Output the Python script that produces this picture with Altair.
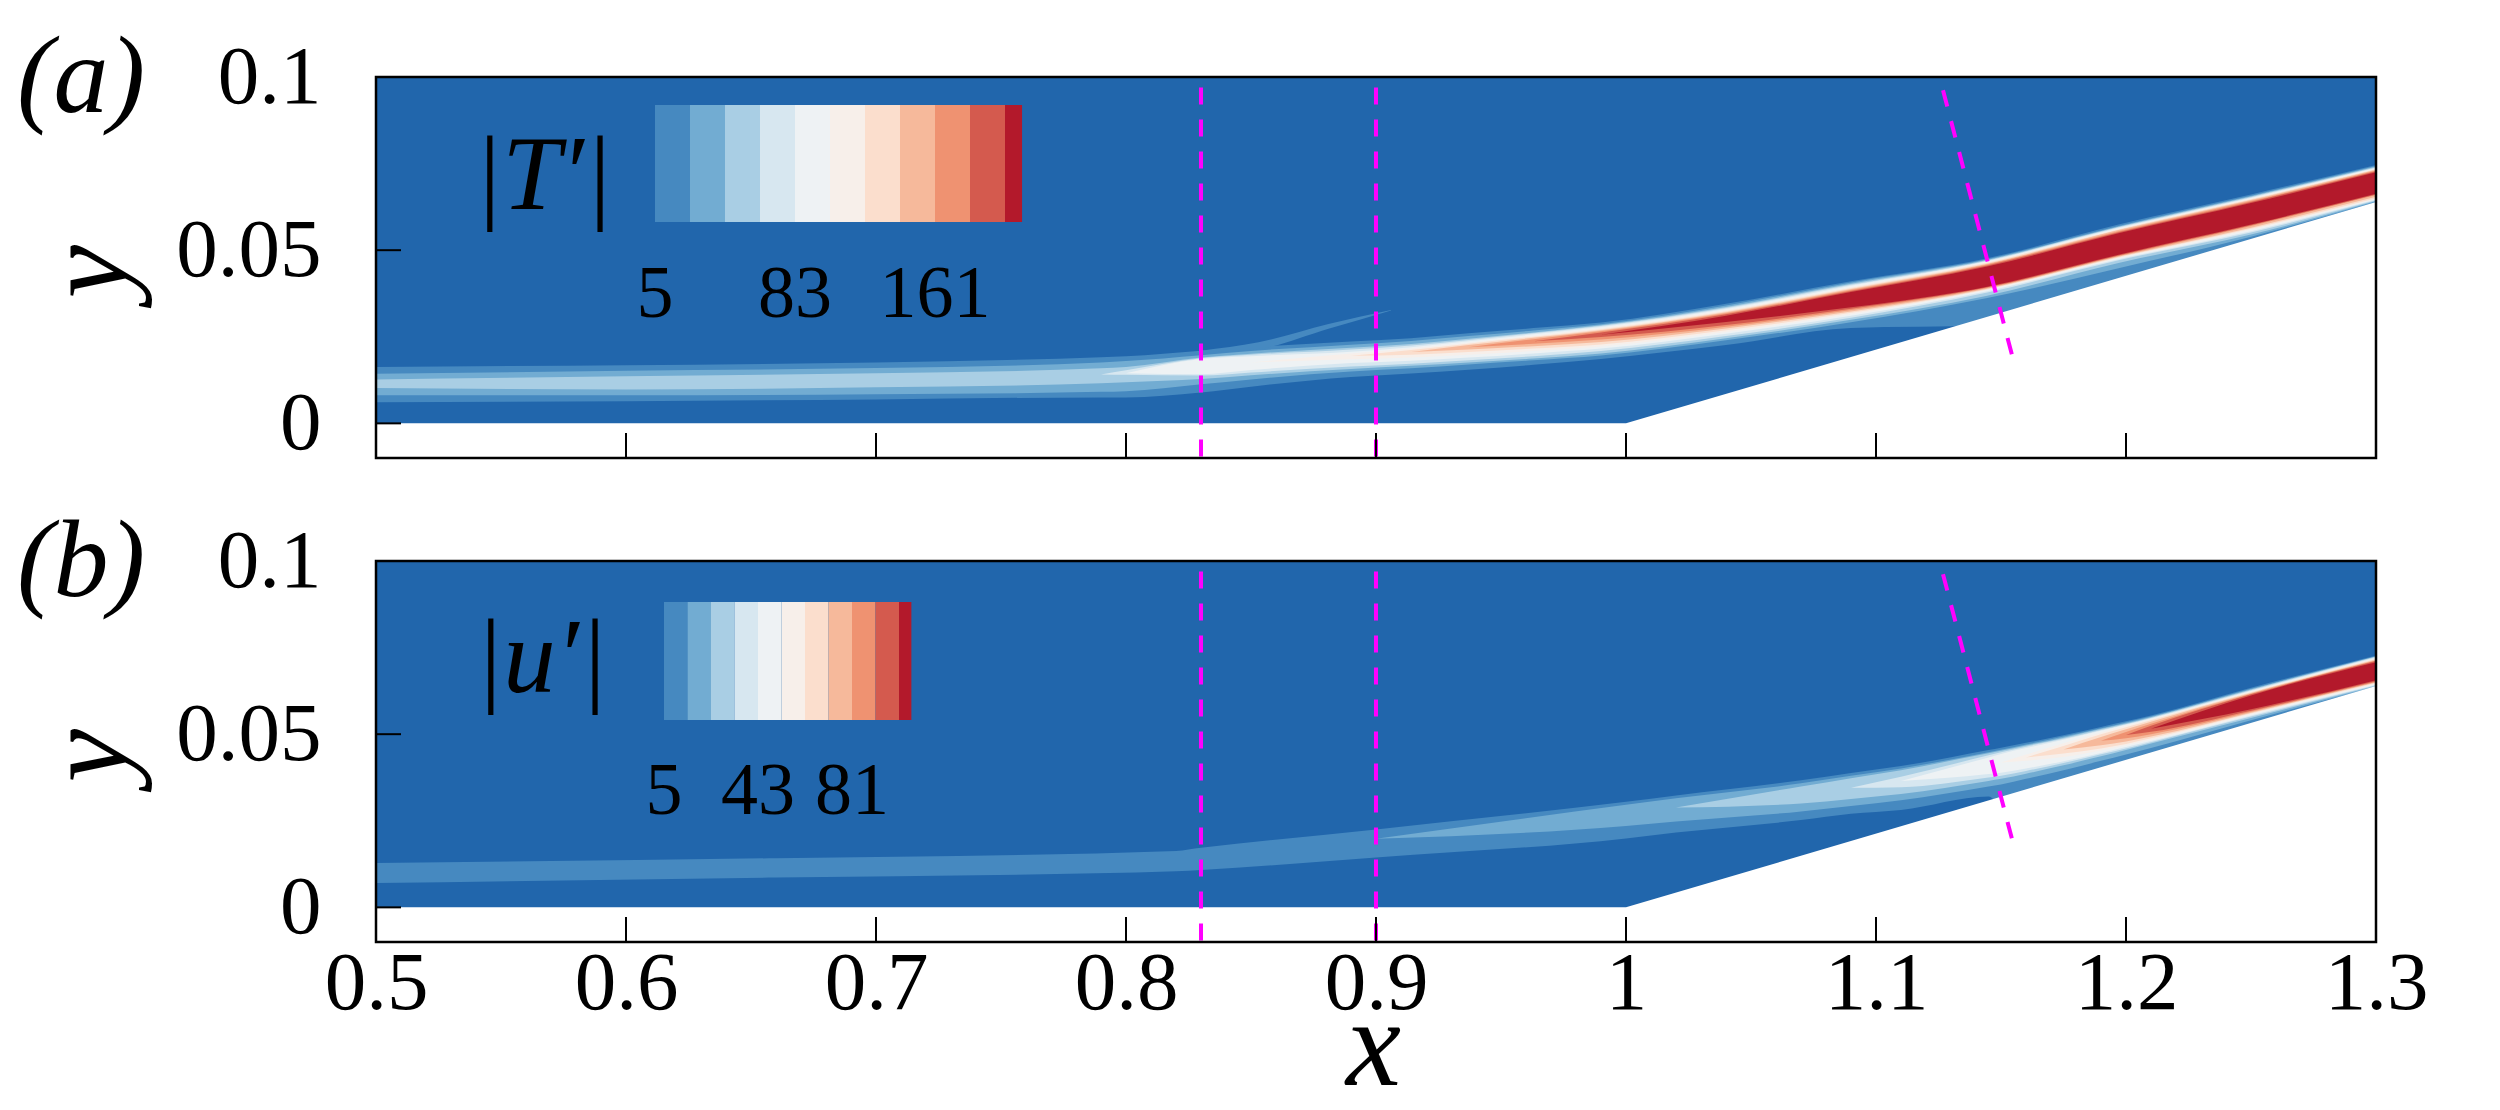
import altair as alt
import pandas as pd

FONT = "Liberation Serif"
PLOT_W = 2000
PLOT_H = 381
X_DOMAIN = [0.5, 1.3]
Y_DOMAIN = [-0.01, 0.1]
BG_COLOR = "#2166ac"
LEVEL_COLORS = ["#4689c0", "#72acd2", "#a9cee4", "#d7e7f0", "#eef2f4", "#f7efea",
                "#fbdecd", "#f6b99b", "#ef9271", "#d45a4e", "#b3192b"]

X_TICKS = [0.5, 0.6, 0.7, 0.8, 0.9, 1.0, 1.1, 1.2, 1.3]
Y_TICKS = [0.0, 0.05, 0.1]

# ramp wall (white region below it)
WALL_X = [0.5, 1.0, 1.3]
WALL_Y = [0.0, 0.0, 0.0639]

# magenta dashed lines (top point -> bottom point)
DASH_X_TOP = [0.83, 0.90, 1.1268]
DASH_Y_TOP = [0.097, 0.097, 0.0962]
DASH_X_BOT = [0.83, 0.90, 1.1552]
DASH_Y_BOT = [-0.01, -0.01, 0.0175]

N = None
# ---------------- panel (a): |T'| ----------------
XA = [0.50, 0.60, 0.70, 0.79, 0.80, 0.83, 0.85, 0.89, 0.914, 0.937, 0.963, 0.99,
      1.04, 1.09, 1.144, 1.197, 1.25, 1.30]
CORE_A = [0.0113, 0.0117, 0.0124, 0.0141, 0.0145, 0.0164, 0.0176, 0.0195, 0.0206,
          0.0220, 0.0237, 0.0256, 0.0302, 0.0357, 0.0423, 0.0518, 0.0605, 0.0694]
# upper extent of each contour level above the ridge
UA = [
    [0.0050, 0.0051, 0.0052, 0.0050, 0.0049, 0.0046, 0.0044, 0.0041, 0.0040, 0.0040, 0.0038, 0.0035, 0.0043, 0.0053, 0.0053, 0.0056, 0.0056, 0.0052],
    [0.0030, 0.0035, 0.0036, 0.0035, 0.0035, 0.0033, 0.0033, 0.0032, 0.0032, 0.0032, 0.0031, 0.0030, 0.0038, 0.0050, 0.0050, 0.0052, 0.0052, 0.0049],
    [0.0014, 0.0019, 0.0021, 0.0018, 0.0018, 0.0026, 0.0025, 0.0023, 0.0023, 0.0024, 0.0025, 0.0027, 0.0034, 0.0046, 0.0048, 0.0050, 0.0050, 0.0047],
    [N, N, N, 0.0, 0.0008, 0.0024, 0.0022, 0.0018, 0.0019, 0.0021, 0.0023, 0.0025, 0.0031, 0.0043, 0.0046, 0.0048, 0.0048, 0.0045],
    [N, N, N, N, 0.0, 0.0022, 0.0018, 0.0012, 0.0014, 0.0017, 0.0020, 0.0022, 0.0028, 0.0040, 0.0044, 0.0046, 0.0046, 0.0043],
    [N, N, N, N, N, N, 0.0, 0.0007, 0.0010, 0.0013, 0.0016, 0.0019, 0.0025, 0.0037, 0.0042, 0.0044, 0.0044, 0.0042],
    [N, N, N, N, N, N, N, 0.0, 0.0006, 0.0010, 0.0013, 0.0016, 0.0022, 0.0034, 0.0040, 0.0042, 0.0042, 0.0040],
    [N, N, N, N, N, N, N, N, 0.0, 0.0006, 0.0010, 0.0013, 0.0019, 0.0031, 0.0037, 0.0040, 0.0040, 0.0038],
    [N, N, N, N, N, N, N, N, N, 0.0, 0.0006, 0.0010, 0.0016, 0.0028, 0.0035, 0.0037, 0.0037, 0.0036],
    [N, N, N, N, N, N, N, N, N, N, 0.0, 0.0006, 0.0013, 0.0025, 0.0032, 0.0034, 0.0034, 0.0034],
    [N, N, N, N, N, N, N, N, N, N, N, 0.0, 0.0009, 0.0022, 0.0029, 0.0031, 0.0031, 0.0031],
]
# lower extent of each contour level below the ridge
DA = [
    [0.0052, 0.0053, 0.0055, 0.0066, 0.0070, 0.0075, 0.0070, 0.0061, 0.0062, 0.0065, 0.0068, 0.0070, 0.0076, 0.0082, 0.0140, 0.0120, 0.0090, 0.0075],
    [0.0032, 0.0036, 0.0040, 0.0050, 0.0052, 0.0051, 0.0049, 0.0045, 0.0047, 0.0050, 0.0055, 0.0060, 0.0062, 0.0065, 0.0062, 0.0070, 0.0066, 0.0054],
    [0.0011, 0.0019, 0.0020, 0.0025, 0.0026, 0.0036, 0.0037, 0.0038, 0.0040, 0.0044, 0.0050, 0.0054, 0.0056, 0.0058, 0.0055, 0.0055, 0.0060, 0.0052],
    [N, N, N, 0.0, 0.0005, 0.0026, 0.0029, 0.0031, 0.0034, 0.0038, 0.0043, 0.0047, 0.0050, 0.0052, 0.0046, 0.0047, 0.0054, 0.0050],
    [N, N, N, N, 0.0, 0.0022, 0.0022, 0.0021, 0.0025, 0.0030, 0.0035, 0.0040, 0.0043, 0.0046, 0.0042, 0.0044, 0.0050, 0.0048],
    [N, N, N, N, N, N, 0.0, 0.0010, 0.0016, 0.0022, 0.0028, 0.0034, 0.0038, 0.0042, 0.0039, 0.0041, 0.0046, 0.0046],
    [N, N, N, N, N, N, N, 0.0, 0.0008, 0.0014, 0.0021, 0.0028, 0.0033, 0.0038, 0.0037, 0.0039, 0.0043, 0.0044],
    [N, N, N, N, N, N, N, N, 0.0, 0.0007, 0.0014, 0.0021, 0.0028, 0.0034, 0.0035, 0.0037, 0.0040, 0.0040],
    [N, N, N, N, N, N, N, N, N, 0.0, 0.0007, 0.0014, 0.0023, 0.0030, 0.0033, 0.0035, 0.0035, 0.0035],
    [N, N, N, N, N, N, N, N, N, N, 0.0, 0.0007, 0.0018, 0.0026, 0.0031, 0.0033, 0.0033, 0.0033],
    [N, N, N, N, N, N, N, N, N, N, N, 0.0, 0.0009, 0.0022, 0.0029, 0.0031, 0.0031, 0.0031],
]
# thin oblique streak above the band (lowest level)
STREAK_X = [0.830, 0.853, 0.881, 0.906]
STREAK_LO = [0.0205, 0.0215, 0.0273, 0.0326]
STREAK_HI = [0.0210, 0.0234, 0.0287, 0.0327]

# ---------------- panel (b): |u'| ----------------
XB = [0.50, 0.66, 0.82, 0.83, 0.90, 1.00, 1.02, 1.07, 1.09, 1.11, 1.145, 1.15, 1.16,
      1.175, 1.19, 1.20, 1.21, 1.25, 1.30]
CORE_B = [0.0099, 0.0114, 0.0133, 0.0140, 0.0198, 0.0271, 0.0288, 0.0325, 0.0345, 0.0365,
          0.0411, 0.0418, 0.0433, 0.0456, 0.0481, 0.0498, 0.0516, 0.0592, 0.0682]
UB = [
    [0.0029, 0.0028, 0.0030, 0.0032, 0.0027, 0.0034, 0.0035, 0.0042, 0.0043, 0.0043, 0.0043, 0.0043, 0.0042, 0.0041, 0.0040, 0.0039, 0.0038, 0.0042, 0.0045],
    [N, N, N, N, 0.0, 0.0025, 0.0027, 0.0033, 0.0035, 0.0036, 0.0037, 0.0037, 0.0037, 0.0037, 0.0036, 0.0036, 0.0035, 0.0039, 0.0043],
    [N, N, N, N, N, N, 0.0, 0.0024, 0.0028, 0.0031, 0.0034, 0.0034, 0.0034, 0.0034, 0.0034, 0.0033, 0.0033, 0.0037, 0.0042],
    [N, N, N, N, N, N, N, N, 0.0, 0.0012, 0.0028, 0.0030, 0.0031, 0.0031, 0.0031, 0.0031, 0.0031, 0.0035, 0.0041],
    [N, N, N, N, N, N, N, N, N, 0.0, 0.0022, 0.0025, 0.0027, 0.0028, 0.0029, 0.0029, 0.0029, 0.0033, 0.0039],
    [N, N, N, N, N, N, N, N, N, N, N, 0.0, 0.0008, 0.0018, 0.0024, 0.0026, 0.0027, 0.0031, 0.0037],
    [N, N, N, N, N, N, N, N, N, N, N, N, 0.0, 0.0010, 0.0019, 0.0022, 0.0024, 0.0029, 0.0035],
    [N, N, N, N, N, N, N, N, N, N, N, N, N, 0.0, 0.0011, 0.0016, 0.0020, 0.0027, 0.0033],
    [N, N, N, N, N, N, N, N, N, N, N, N, N, N, 0.0, 0.0008, 0.0014, 0.0025, 0.0031],
    [N, N, N, N, N, N, N, N, N, N, N, N, N, N, N, 0.0, 0.0008, 0.0023, 0.0029],
    [N, N, N, N, N, N, N, N, N, N, N, N, N, N, N, N, 0.0, 0.0020, 0.0026],
]
DB = [
    [0.0029, 0.0028, 0.0029, 0.0032, 0.0054, 0.0072, 0.0072, 0.0073, 0.0075, 0.0084, 0.0091, 0.0120, 0.0120, 0.0110, 0.0100, 0.0100, 0.0100, 0.0090, 0.0080],
    [N, N, N, N, 0.0, 0.0036, 0.0040, 0.0048, 0.0052, 0.0056, 0.0062, 0.0063, 0.0062, 0.0060, 0.0058, 0.0057, 0.0056, 0.0052, 0.0045],
    [N, N, N, N, N, N, 0.0, 0.0025, 0.0032, 0.0038, 0.0046, 0.0047, 0.0047, 0.0046, 0.0045, 0.0044, 0.0043, 0.0045, 0.0043],
    [N, N, N, N, N, N, N, N, 0.0, 0.0018, 0.0036, 0.0038, 0.0039, 0.0039, 0.0039, 0.0039, 0.0039, 0.0041, 0.0041],
    [N, N, N, N, N, N, N, N, N, 0.0, 0.0026, 0.0029, 0.0032, 0.0034, 0.0035, 0.0035, 0.0036, 0.0038, 0.0039],
    [N, N, N, N, N, N, N, N, N, N, N, 0.0, 0.0010, 0.0022, 0.0028, 0.0030, 0.0032, 0.0035, 0.0037],
    [N, N, N, N, N, N, N, N, N, N, N, N, 0.0, 0.0012, 0.0022, 0.0026, 0.0028, 0.0032, 0.0035],
    [N, N, N, N, N, N, N, N, N, N, N, N, N, 0.0, 0.0013, 0.0019, 0.0023, 0.0030, 0.0033],
    [N, N, N, N, N, N, N, N, N, N, N, N, N, N, 0.0, 0.0010, 0.0016, 0.0027, 0.0031],
    [N, N, N, N, N, N, N, N, N, N, N, N, N, N, N, 0.0, 0.0009, 0.0024, 0.0029],
    [N, N, N, N, N, N, N, N, N, N, N, N, N, N, N, N, 0.0, 0.0020, 0.0026],
]

# colour-bar legends (contour level edges)
LEGEND_A_EDGES = [5, 24.5, 44, 63.5, 83, 102.5, 122, 141.5, 161, 180.5, 200, 209.5]
LEGEND_A_LABELS = [5, 83, 161]
LEGEND_B_EDGES = [5, 14.5, 24, 33.5, 43, 52.5, 62, 71.5, 81, 90.5, 100, 105]
LEGEND_B_LABELS = [5, 43, 81]
PANEL_TAGS = ["(a)", "(b)"]
FIELD_NAMES = ["|T\u2032|", "|u\u2032|"]

XS = alt.Scale(domain=X_DOMAIN, nice=False, zero=False)
YS = alt.Scale(domain=Y_DOMAIN, nice=False, zero=False)

Y_AXIS = alt.Axis(values=Y_TICKS, format="~g", ticks=False, domain=False, grid=False,
                  labelFont=FONT, labelFontSize=83, labelPadding=55, labelColor="black",
                  labelBaseline="middle", labelFlush=False, labelOverlap=False,
                  title="y", titleFont=FONT, titleFontStyle="italic", titleFontWeight="normal",
                  titleFontSize=120, titleColor="black", titleX=-251, titleY=194,
                  titleAngle=270, titleAlign="center", titleBaseline="alphabetic")

X_AXIS_B = alt.Axis(values=X_TICKS, format="~g", ticks=False, domain=False, grid=False,
                    labelFont=FONT, labelFontSize=83, labelPadding=66, labelColor="black",
                    labelBaseline="alphabetic", labelFlush=False, labelOverlap=False,
                    title="x", titleFont=FONT, titleFontStyle="italic", titleFontWeight="normal",
                    titleFontSize=124, titleColor="black", titleX=997, titleY=142,
                    titleAlign="center", titleBaseline="alphabetic")


def band_frames(xv, core, U, D):
    frames = []
    for k in range(len(U)):
        rows = []
        for i, x in enumerate(xv):
            if U[k][i] is None:
                continue
            rows.append({"x": x, "lo": core[i] - D[k][i], "hi": core[i] + U[k][i]})
        frames.append(pd.DataFrame(rows))
    return frames


def legend_frame(edges):
    return pd.DataFrame({"lo": edges[:-1], "hi": edges[1:], "col": LEVEL_COLORS[:len(edges) - 1]})


def panel(xv, core, U, D, streak, leg_edges, leg_labels, leg_dom, leg_rng, leg_y, leg_ly,
          tag, name, name_xy, x_axis):
    one = pd.DataFrame({"a": [0]})
    layers = [alt.Chart(one).mark_rect(color=BG_COLOR).encode(
        x=alt.value(0), x2=alt.value(PLOT_W), y=alt.value(0), y2=alt.value(PLOT_H))]
    for k, df in enumerate(band_frames(xv, core, U, D)):
        layers.append(alt.Chart(df).mark_area(color=LEVEL_COLORS[k], interpolate="monotone").encode(
            x=alt.X("x:Q", scale=XS, axis=None),
            y=alt.Y("lo:Q", scale=YS, axis=Y_AXIS),
            y2="hi:Q"))
        if k == 0 and streak is not None:
            layers.append(alt.Chart(streak).mark_area(color=LEVEL_COLORS[0], interpolate="monotone").encode(
                x=alt.X("x:Q", scale=XS, axis=None),
                y=alt.Y("lo:Q", scale=YS, axis=Y_AXIS),
                y2="hi:Q"))
    wall = pd.DataFrame({"x": WALL_X, "y": WALL_Y, "base": [Y_DOMAIN[0]] * len(WALL_X)})
    layers.append(alt.Chart(wall).mark_area(color="white").encode(
        x=alt.X("x:Q", scale=XS, axis=x_axis),
        y=alt.Y("y:Q", scale=YS, axis=Y_AXIS),
        y2="base:Q"))
    dashes = pd.DataFrame({"x0": DASH_X_TOP, "y0": DASH_Y_TOP, "x1": DASH_X_BOT, "y1": DASH_Y_BOT})
    layers.append(alt.Chart(dashes).mark_rule(color="#ff00ff", strokeWidth=4, strokeDash=[17, 15]).encode(
        x=alt.X("x0:Q", scale=XS, axis=None),
        y=alt.Y("y0:Q", scale=YS, axis=Y_AXIS),
        x2="x1:Q", y2="y1:Q"))
    lscale = alt.Scale(domain=leg_dom, range=leg_rng, nice=False, zero=False)
    layers.append(alt.Chart(legend_frame(leg_edges)).mark_rect().encode(
        x=alt.X("lo:Q", scale=lscale, axis=None), x2="hi:Q",
        y=alt.value(leg_y[0]), y2=alt.value(leg_y[1]),
        color=alt.Color("col:N", scale=None)))
    layers.append(alt.Chart(pd.DataFrame({"v": leg_labels, "t": [str(v) for v in leg_labels]})).mark_text(
        font=FONT, fontSize=74, align="center", baseline="alphabetic", color="black").encode(
        x=alt.X("v:Q", scale=lscale, axis=None), y=alt.value(leg_ly), text="t:N"))
    layers.append(alt.Chart(pd.DataFrame({"t": [tag]})).mark_text(
        font=FONT, fontSize=110, fontStyle="italic", align="center", baseline="alphabetic",
        color="black").encode(x=alt.value(-295), y=alt.value(35), text="t:N"))
    layers.append(alt.Chart(pd.DataFrame({"t": [name]})).mark_text(
        font=FONT, fontSize=105, fontStyle="italic", align="center", baseline="alphabetic",
        color="black").encode(x=alt.value(name_xy[0]), y=alt.value(name_xy[1]), text="t:N"))
    layers.append(alt.Chart(pd.DataFrame({"t": X_TICKS})).mark_rule(color="black", strokeWidth=2).encode(
        x=alt.X("t:Q", scale=XS, axis=None), y=alt.value(PLOT_H), y2=alt.value(PLOT_H - 25)))
    layers.append(alt.Chart(pd.DataFrame({"t": Y_TICKS})).mark_rule(color="black", strokeWidth=2).encode(
        y=alt.Y("t:Q", scale=YS, axis=Y_AXIS), x=alt.value(0), x2=alt.value(25)))
    layers.append(alt.Chart(one).mark_rect(
        fillOpacity=0, stroke="black", strokeWidth=2.5).encode(
        x=alt.value(0), x2=alt.value(PLOT_W), y=alt.value(0), y2=alt.value(PLOT_H)))
    return alt.layer(*layers).resolve_scale(x="independent").properties(width=PLOT_W, height=PLOT_H)


streak_df = pd.DataFrame({"x": STREAK_X, "lo": STREAK_LO, "hi": STREAK_HI})
pa = panel(XA, CORE_A, UA, DA, streak_df, LEGEND_A_EDGES, LEGEND_A_LABELS, [5, 200], [279, 629],
           (28, 145), 240, PANEL_TAGS[0], FIELD_NAMES[0], (167, 132), None)
pb = panel(XB, CORE_B, UB, DB, None, LEGEND_B_EDGES, LEGEND_B_LABELS, [5, 100], [288, 523],
           (41, 159), 253, PANEL_TAGS[1], FIELD_NAMES[1], (165, 131), X_AXIS_B)

chart = alt.vconcat(pa, pb, spacing=103, bounds="flush").properties(
    padding={"left": 8, "top": 15, "right": 10, "bottom": 0}
).configure_view(stroke=None).configure(background="white", font=FONT)

chart.save("out.html", embed_options={"renderer": "svg", "actions": False})
